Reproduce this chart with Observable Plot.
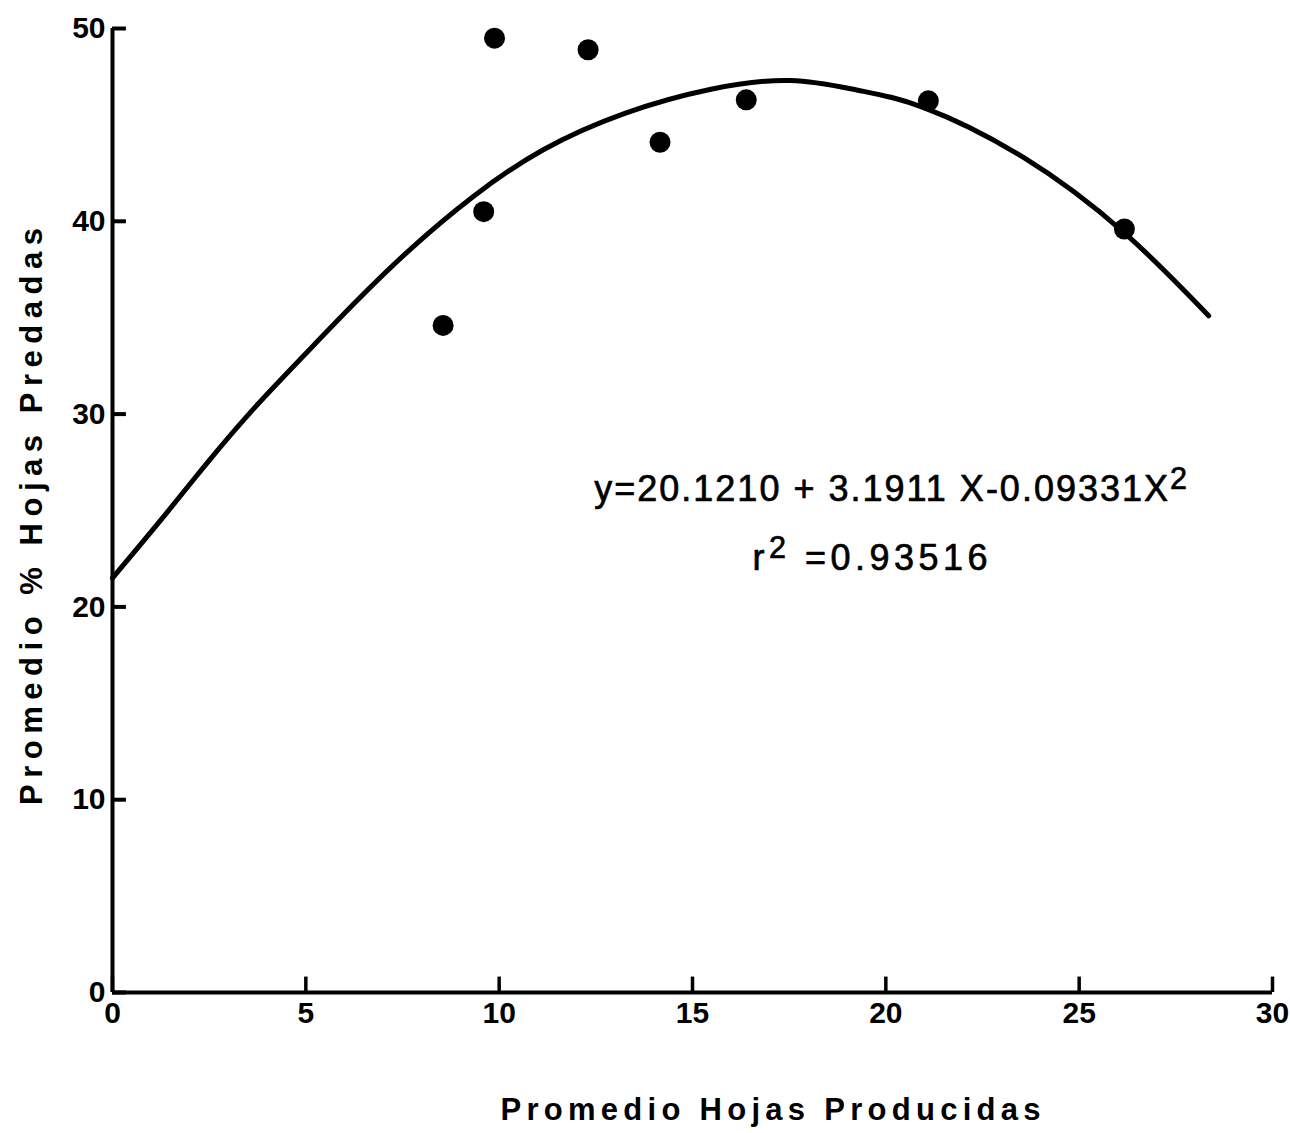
<!DOCTYPE html>
<html>
<head>
<meta charset="utf-8">
<script src="https://cdn.jsdelivr.net/npm/d3@7"></script>
<script src="https://cdn.jsdelivr.net/npm/@observablehq/plot@0.6"></script>
<style>
  html, body { margin: 0; padding: 0; background: #fff; }
  #chart svg { display: block; }
</style>
</head>
<body>
<div id="chart"></div>
<script>
// ---- data ----
const xTicks = [0, 5, 10, 15, 20, 25, 30];
const yTicks = [0, 10, 20, 30, 40, 50];

// observed points (Promedio Hojas Producidas, Promedio % Hojas Predadas)
const obsX = [8.55, 9.60, 9.88, 12.30, 14.16, 16.39, 21.10, 26.17];
const obsY = [34.6, 40.5, 49.5, 48.9, 44.1, 46.3, 46.25, 39.6];

// fitted curve as drawn in the picture
const fitX = [0, 1.37, 2.46, 3.66, 4.93, 6.28, 7.73, 9.34, 11.13, 13.25, 15.48, 17.54, 19.27, 20.98, 23.57, 26.17, 28.35];
const fitY = [21.5, 24.8, 27.5, 30.3, 33.0, 35.8, 38.6, 41.3, 43.7, 45.6, 46.85, 47.3, 46.8, 45.9, 43.3, 39.4, 35.1];

const xLabel = "Promedio Hojas Producidas";
const yLabel = "Promedio % Hojas Predadas";
const equationLines = ["y=20.1210 + 3.1911 X-0.09331X^2", "r^2 =0.93516"];

// ---- tables built from the arrays ----
const obs = obsX.map((x, i) => ({x, y: obsY[i]}));
const fit = fitX.map((x, i) => ({x, y: fitY[i]}));

const FONT = "'Liberation Sans', Arial, sans-serif";

const chart = Plot.plot({
  width: 1290,
  height: 1133,
  marginLeft: 112,
  marginRight: 18,
  marginTop: 28,
  marginBottom: 141,
  x: {domain: [0, 30], axis: null},
  y: {domain: [0, 50], axis: null},
  style: {fontFamily: FONT, fontSize: "30px", fontWeight: "bold", color: "#000", background: "#fff"},
  marks: [
    // axis lines
    Plot.ruleX([0], {y1: 0, y2: 50, stroke: "#000", strokeWidth: 4}),
    Plot.ruleY([0], {x1: 0, x2: 30, stroke: "#000", strokeWidth: 4}),
    // inward ticks
    Plot.ruleY(yTicks, {x1: 0, x2: 0.36, stroke: "#000", strokeWidth: 4}),
    Plot.ruleX(xTicks, {y1: 0, y2: 0.8, stroke: "#000", strokeWidth: 3.5}),
    // tick labels
    Plot.axisY(yTicks, {tickSize: 0, tickPadding: 7, label: null, fontSize: 30, fontWeight: "bold", fill: "#000"}),
    Plot.axisX(xTicks, {tickSize: 0, tickPadding: 9, label: null, fontSize: 30, fontWeight: "bold", fill: "#000"}),
    // fitted curve
    Plot.line(fit, {x: "x", y: "y", curve: "natural", stroke: "#000", strokeWidth: 5}),
    // observations
    Plot.dot(obs, {x: "x", y: "y", r: 10.5, fill: "#000", stroke: "none"}),
    // equation annotation
    Plot.text([equationLines[0]], {x: 20.15, y: 26.1, text: d => d, fontSize: 36, fontWeight: "normal", fill: "#000", stroke: "#000", strokeWidth: 0.7}),
    Plot.text([equationLines[1]], {x: 19.65, y: 22.5, text: d => d, fontSize: 36, fontWeight: "normal", fill: "#000", stroke: "#000", strokeWidth: 0.7}),
    // axis titles
    Plot.text([yLabel], {frameAnchor: "left", textAnchor: "middle", lineAnchor: "middle", dx: -80, dy: 6, rotate: -90, text: d => d, fontSize: 31, fontWeight: "bold", fill: "#000"}),
    Plot.text([xLabel], {frameAnchor: "bottom", textAnchor: "middle", lineAnchor: "middle", dx: 78, dy: 118, text: d => d, fontSize: 31, fontWeight: "bold", fill: "#000"})
  ]
});

document.getElementById("chart").appendChild(chart);

// superscripts and letter spacing on the text
const svg = d3.select(chart);
svg.selectAll("text").each(function() {
  const t = d3.select(this);
  const s = this.textContent;
  if (s.includes("^")) {
    const [pre, rest] = s.split("^");
    const sup = rest.charAt(0);
    const post = rest.slice(1);
    t.text(null);
    t.append("tspan").text(pre);
    t.append("tspan").attr("dy", "-0.4em").attr("font-size", "0.85em").text(sup);
    if (post) t.append("tspan").attr("dy", "0.34em").text(post);
    t.attr("letter-spacing", s.startsWith("y") ? 2 : 4.5);
  }
  if (s === yLabel) {
    t.attr("textLength", 577).attr("lengthAdjust", "spacing");
  }
  if (s === xLabel) {
    t.attr("textLength", 540).attr("lengthAdjust", "spacing");
  }
});
</script>
</body>
</html>
